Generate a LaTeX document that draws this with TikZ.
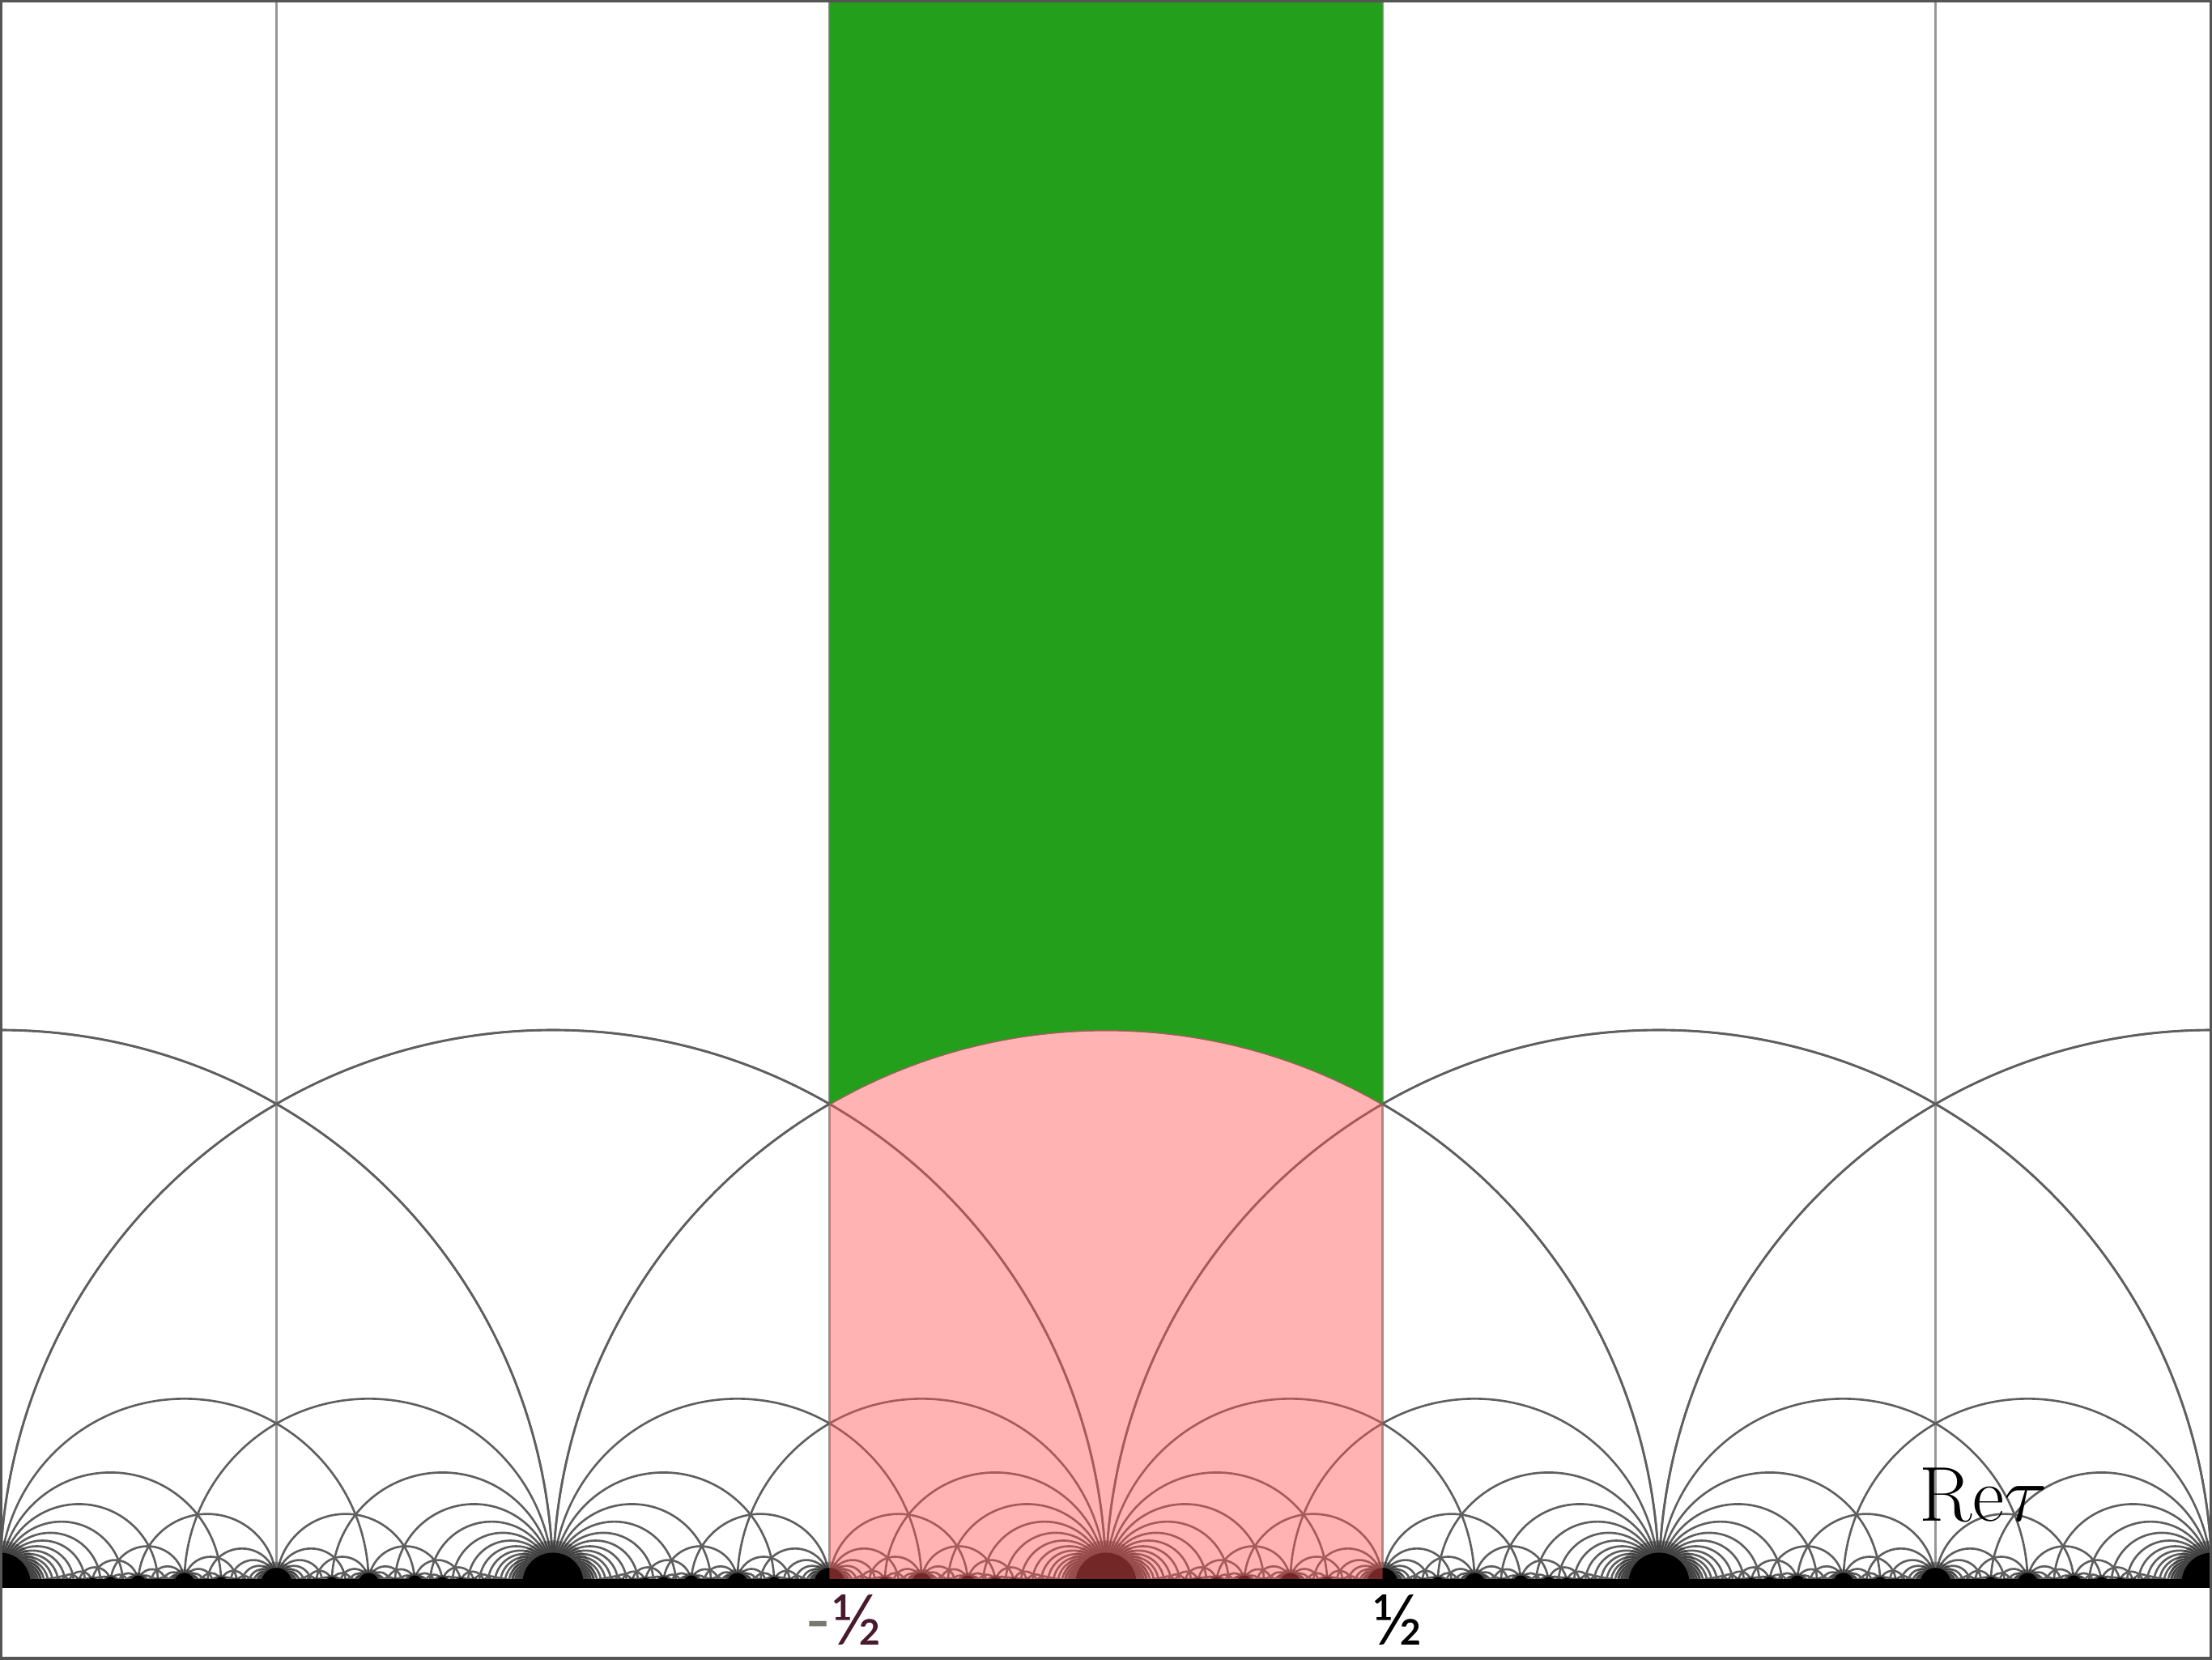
\documentclass[tikz,border=0pt]{standalone}
\usepackage{fontspec}
\newfontfamily\fracfont{Lato}
\definecolor{arcgray}{RGB}{95,95,95}
\definecolor{vgray}{RGB}{150,150,150}
\definecolor{framegray}{RGB}{85,85,85}
\definecolor{fdgreen}{RGB}{35,159,28}
\definecolor{overlayred}{RGB}{255,88,88}
\definecolor{maroonlab}{RGB}{72,26,46}
\definecolor{minusgray}{RGB}{120,120,112}
\begin{document}
\begin{tikzpicture}[x=5cm,y=5cm,
  arcline/.style={line width=0.55pt, draw=arcgray},
  vline/.style={line width=0.7pt, draw=vgray},
  blob/.style={fill=black},
  halo/.style={fill=black, fill opacity=0.3},
  lab/.style={inner sep=0pt, font=\fracfont\fontsize{18}{18}\selectfont},
  framebox/.style={line width=1.1pt, draw=framegray}]
\useasboundingbox (-2,-0.1376) rectangle (2,2.8624);
\fill[white] (-2,-0.1376) rectangle (2,2.8624);
\def\Nmax{150}
\begin{scope}
\clip (-2,-0.2) rectangle (2,2.8624);
% vertical geodesics Re tau = odd/2
\foreach \qv in {-1.5,-0.5,0.5,1.5}{
  \draw[vline] (\qv,0) -- (\qv,2.8624);
}
% circular geodesics between a/c and b/d with |ad-bc|=2
\foreach \qc in {1,...,12}{%
  \pgfmathtruncatemacro{\qdmax}{floor(\Nmax/\qc)}%
  \ifnum\qdmax<\qc\relax\else
  \pgfmathtruncatemacro{\qamin}{-2*\qc-1}%
  \pgfmathtruncatemacro{\qamax}{2*\qc+1}%
  \foreach \qd in {\qc,...,\qdmax}{%
    \foreach \qa in {\qamin,...,\qamax}{%
      \ifnum\qa=0 \edef\qga{\qc}\else\pgfmathtruncatemacro{\qga}{gcd(abs(\qa),\qc)}\fi
      \ifnum\qga=1
        \foreach \qs in {2,-2}{%
          \pgfmathtruncatemacro{\qnum}{\qa*\qd-\qs}%
          \pgfmathtruncatemacro{\qmd}{mod(abs(\qnum),\qc)}%
          \ifnum\qmd=0
            \pgfmathtruncatemacro{\qb}{round(\qnum/\qc)}%
            \ifnum\qb=0 \edef\qgb{\qd}\else\pgfmathtruncatemacro{\qgb}{gcd(abs(\qb),\qd)}\fi
            \ifnum\qgb=1
              \pgfmathsetmacro{\qr}{1/(\qc*\qd)}%
              \pgfmathsetmacro{\qx}{(\qa/\qc+\qb/\qd)/2}%
              \draw[arcline] (\qx+\qr,0) arc[start angle=0,end angle=180,radius=\qr];%
            \fi
          \fi
        }%
      \fi
    }%
  }%
  \fi
}
% dense accumulation at cusps
\foreach \qq in {1,...,10}{%
  \pgfmathtruncatemacro{\qpmin}{-2*\qq}%
  \pgfmathtruncatemacro{\qpmax}{2*\qq}%
  \pgfmathsetmacro{\qR}{0.055/\qq}%
  \foreach \qp in {\qpmin,...,\qpmax}{%
    \ifnum\qp=0 \edef\qgp{\qq}\else\pgfmathtruncatemacro{\qgp}{gcd(abs(\qp),\qq)}\fi
    \ifnum\qgp=1
      \fill[halo] (\qp/\qq+1.4*\qR,0) arc[start angle=0,end angle=180,radius=1.4*\qR] -- cycle;
      \fill[blob] (\qp/\qq+\qR,0) arc[start angle=0,end angle=180,radius=\qR] -- cycle;
    \fi
  }%
}
\end{scope}
% fundamental domain (green) and the region below it (pink overlay)
\fill[fdgreen] (-0.5,2.8624) -- (-0.5,0.8660) arc[start angle=120,end angle=60,radius=1] -- (0.5,2.8624) -- cycle;
\fill[overlayred, fill opacity=0.45] (-0.5,0) -- (-0.5,0.8660) arc[start angle=120,end angle=60,radius=1] -- (0.5,0) -- cycle;
% real axis
\fill[black] (-2,-0.0088) rectangle (2,0.0073);
% labels
\node[lab] (mhalf) at (-0.475,-0.066) {{\color{minusgray}-}{\color{maroonlab}½}};
\node[lab] (phalf) at (0.527,-0.066) {½};
\node[anchor=base west, inner sep=0pt, font=\fontsize{20}{24}\selectfont] (retau) at (1.47,0.1127) {$\mathrm{Re}\tau$};
% frame
\draw[framebox] (-2,-0.1376) rectangle (2,2.8624);
\end{tikzpicture}
\end{document}
